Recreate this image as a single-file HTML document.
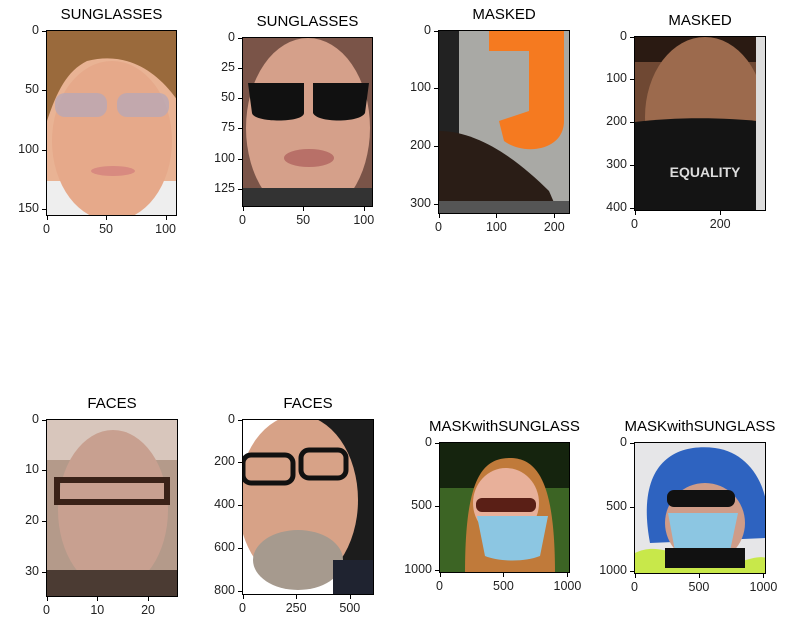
<!DOCTYPE html>
<html><head><meta charset="utf-8"><style>
body{margin:0;background:#fff;width:796px;height:631px;overflow:hidden;position:relative;font-family:"Liberation Sans","DejaVu Sans",sans-serif}
.ax{position:absolute;border:1px solid #000;box-sizing:border-box;overflow:hidden}
.t{position:absolute;font-size:15px;color:#000;white-space:nowrap;transform:translateX(-50%)}
.tk{position:absolute;font-size:12.5px;color:#222;white-space:nowrap}
.tm{position:absolute;background:#000}
</style></head><body>
<script>
const titles=["SUNGLASSES","SUNGLASSES","MASKED","MASKED","FACES","FACES","MASKwithSUNGLASS","MASKwithSUNGLASS"];
const imgW=[110,108,228,308,26,615,1024,1024];
const imgH=[156,140,318,408,35,820,1024,1024];
const xTicks=[[0,50,100],[0,50,100],[0,100,200],[0,200],[0,10,20],[0,250,500],[0,500,1000],[0,500,1000]];
const yTicks=[[0,50,100,150],[0,25,50,75,100,125],[0,100,200,300],[0,100,200,300,400],[0,10,20,30],[0,200,400,600,800],[0,500,1000],[0,500,1000]];
const boxL=[46,242,438,634,46,242,439,634];
const boxT=[30,37,30,36,419,419,442,442];
const boxW=[131,131,132,132,132,132,131,132];
const art=[
`<rect width="100%" height="100%" fill="#e9b394"/><path d="M0 0h131v70C110 40 80 20 40 30 20 40 10 60 0 90z" fill="#9a6a3c"/><rect x="0" y="150" width="131" height="40" fill="#eee"/><ellipse cx="65" cy="110" rx="60" ry="80" fill="#e6a98a"/><rect x="8" y="62" width="52" height="24" rx="10" fill="#b9a7b5" opacity=".8"/><rect x="70" y="62" width="52" height="24" rx="10" fill="#b9a7b5" opacity=".8"/><ellipse cx="66" cy="140" rx="22" ry="5" fill="#d88a80"/>`,
`<rect width="100%" height="100%" fill="#7a5448"/><ellipse cx="65" cy="90" rx="62" ry="90" fill="#d5a08a"/><rect x="0" y="150" width="131" height="30" fill="#333"/><path d="M5 45h56v30c0 10-50 10-52 0zM70 45h56l-4 30c-5 10-48 10-52 0z" fill="#111"/><ellipse cx="66" cy="120" rx="25" ry="9" fill="#b87068"/>`,
`<rect width="100%" height="100%" fill="#a9a9a5"/><path d="M50 0h75v90c0 30-40 35-60 20L60 90 90 80V20H50z" fill="#f57a20"/><rect x="0" y="0" width="20" height="183" fill="#222"/><path d="M0 100c40 0 80 30 110 60l10 23H0z" fill="#2a1d16"/><rect x="0" y="170" width="131" height="13" fill="#555"/>`,
`<rect width="100%" height="100%" fill="#6f4833"/><rect x="0" y="0" width="131" height="25" fill="#2a1a12"/><ellipse cx="70" cy="80" rx="60" ry="80" fill="#9c6a4d"/><path d="M0 85c40-5 90-5 131 0v88H0z" fill="#141414"/><text x="70" y="140" font-size="14" fill="#ddd" text-anchor="middle" font-weight="bold" font-family="Liberation Sans">EQUALITY</text><rect x="121" y="0" width="10" height="173" fill="#ddd"/>`,
`<rect width="100%" height="100%" fill="#b49a8a"/><rect x="0" y="0" width="132" height="40" fill="#d8c6bc"/><ellipse cx="66" cy="90" rx="55" ry="80" fill="#c8a090"/><rect x="10" y="60" width="110" height="22" fill="none" stroke="#3a2218" stroke-width="6"/><rect x="0" y="150" width="132" height="30" fill="#4b3b33"/>`,
`<rect width="100%" height="100%" fill="#fff"/><path d="M70 0h62v178H100z" fill="#1c1c1c"/><ellipse cx="55" cy="80" rx="60" ry="85" fill="#d7a287"/><rect x="0" y="35" width="50" height="28" rx="8" fill="none" stroke="#111" stroke-width="5"/><rect x="58" y="30" width="45" height="28" rx="8" fill="none" stroke="#111" stroke-width="5"/><ellipse cx="55" cy="140" rx="45" ry="30" fill="#a69a8e"/><rect x="90" y="140" width="42" height="38" fill="#1f2330"/>`,
`<rect width="100%" height="100%" fill="#3c6424"/><rect x="0" y="0" width="131" height="45" fill="#15240e"/><path d="M25 131C25 40 40 15 70 15s45 30 45 116z" fill="#c07a3a"/><ellipse cx="66" cy="60" rx="33" ry="35" fill="#e8b09a"/><rect x="36" y="55" width="60" height="14" rx="6" fill="#5a1f16"/><path d="M37 73h71l-8 40c-15 6-40 6-55 0z" fill="#8cc6e2"/>`,
`<rect width="100%" height="100%" fill="#e6e6e8"/><path d="M15 100C0 20 40 0 80 5s60 50 50 90z" fill="#2e63c0"/><ellipse cx="70" cy="80" rx="40" ry="40" fill="#cf9c88"/><rect x="32" y="47" width="68" height="17" rx="7" fill="#111"/><path d="M33 70h70l-8 38c-15 5-40 5-55 0z" fill="#8cc6e2"/><path d="M0 110c20-10 40 0 66 10s50-10 66-5v17H0z" fill="#c8e84a"/><path d="M30 105h80v20H30z" fill="#111"/>`
];
for(let i=0;i<8;i++){
 const s=boxW[i]/imgW[i];const w=boxW[i];const h=Math.round(imgH[i]*s);
 const L=boxL[i],T=boxT[i];
 const ti=document.createElement('div');ti.className='t';ti.textContent=titles[i];
 
 
 ti.style.left=(L+w/2)+'px';ti.style.top=(T-24)+'px';document.body.appendChild(ti);
 const ax=document.createElement('div');ax.className='ax';
 
 
 ax.style.cssText+=`left:${L}px;top:${T}px;width:${w}px;height:${h}px`;
 ax.innerHTML=`<svg width="${w}" height="${h}" viewBox="0 0 ${w} ${h}" preserveAspectRatio="none">${art[i]}</svg>`;
 document.body.appendChild(ax);
 xTicks[i].forEach(v=>{const x=L+0.5+v*s;
  const m=document.createElement('div');m.className='tm';m.style.cssText=`left:${x}px;top:${T+h}px;width:1px;height:4px`;
  
  
  document.body.appendChild(m);
  const l=document.createElement('div');l.className='tk';l.textContent=v;l.style.left=x+'px';l.style.top=(T+h+6)+'px';l.style.transform='translateX(-50%)';
  
  
  document.body.appendChild(l);});
 yTicks[i].forEach(v=>{const y=T+0.5+v*s;
  const m=document.createElement('div');m.className='tm';m.style.cssText=`left:${L-4}px;top:${y}px;width:4px;height:1px`;
  
  
  document.body.appendChild(m);
  const l=document.createElement('div');l.className='tk';l.textContent=v;l.style.right=(796-L+7)+'px';l.style.top=(y-8)+'px';
  
  
  document.body.appendChild(l);});
}
</script>
</body></html>
